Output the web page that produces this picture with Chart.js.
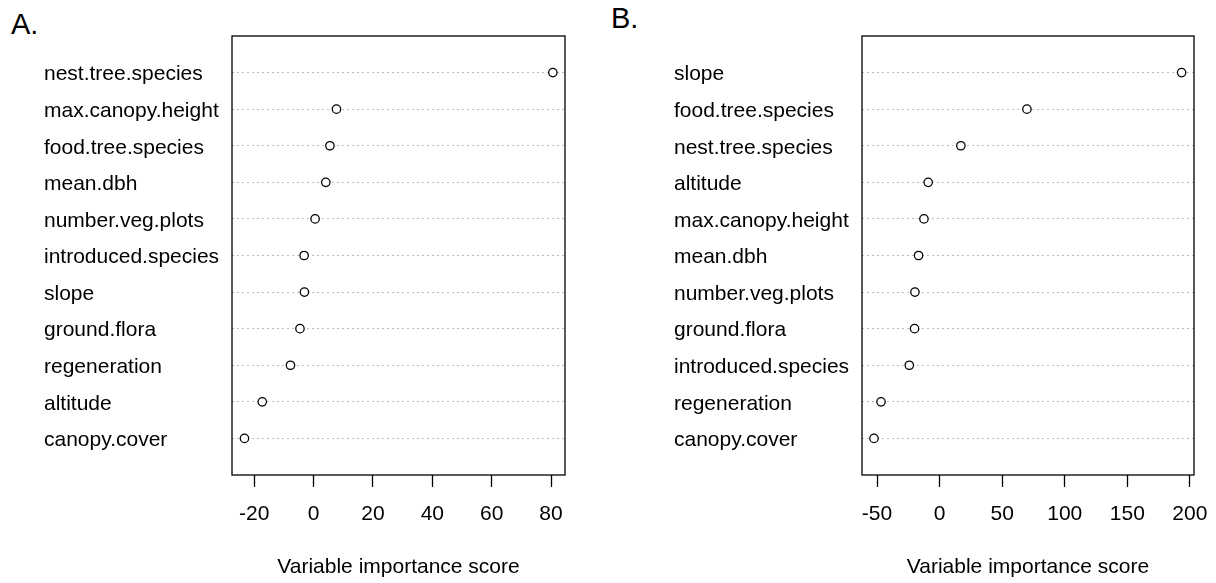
<!DOCTYPE html>
<html>
<head>
<meta charset="utf-8">
<script src="https://cdn.jsdelivr.net/npm/chart.js@4/dist/chart.umd.min.js"></script>
<style>
  html, body { margin: 0; padding: 0; background: #fff; }
  body { width: 1216px; height: 583px; position: relative; overflow: hidden; font-family: "Liberation Sans", Arial, sans-serif; }
  .panel { position: absolute; top: 0; height: 583px; }
  .tag { position: absolute; font-size: 29px; line-height: 29px; color: #000; font-family: "Liberation Sans", Arial, sans-serif; }
</style>
</head>
<body>
<div class="tag" style="left:11px; top:10px;">A.</div>
<div class="tag" style="left:611px; top:4px;">B.</div>
<div class="panel" style="left:0; width:600px;"><canvas id="cA" width="600" height="583"></canvas></div>
<div class="panel" style="left:600px; width:616px;"><canvas id="cB" width="616" height="583"></canvas></div>
<script>
// ---- Data (top-level named arrays) ----
const labelsA = ["nest.tree.species", "max.canopy.height", "food.tree.species", "mean.dbh",
  "number.veg.plots", "introduced.species", "slope", "ground.flora", "regeneration",
  "altitude", "canopy.cover"];
const valuesA = [80.6, 7.7, 5.5, 4.1, 0.5, -3.2, -3.1, -4.6, -7.8, -17.3, -23.3];
const ticksA = [-20, 0, 20, 40, 60, 80];

const labelsB = ["slope", "food.tree.species", "nest.tree.species", "altitude",
  "max.canopy.height", "mean.dbh", "number.veg.plots", "ground.flora",
  "introduced.species", "regeneration", "canopy.cover"];
const valuesB = [193.4, 69.8, 17.0, -9.1, -12.5, -16.8, -19.7, -20.0, -24.2, -46.8, -52.4];
const ticksB = [-50, 0, 50, 100, 150, 200];

const axisTitle = "Variable importance score";
const FONT = "'Liberation Sans', Arial, sans-serif";

const boxPlugin = {
  id: 'box',
  afterDatasetsDraw(chart) {
    const a = chart.chartArea, ctx = chart.ctx;
    ctx.save();
    ctx.strokeStyle = '#000';
    ctx.lineWidth = 1.3;
    ctx.setLineDash([]);
    ctx.strokeRect(a.left, a.top, a.right - a.left, a.bottom - a.top);
    ctx.restore();
  }
};

function makeChart(id, labels, values, tickVals, xmin, xmax, padL, padR) {
  const pts = values.map((v, i) => ({ x: v, y: i + 1 }));
  return new Chart(document.getElementById(id), {
    type: 'scatter',
    data: { datasets: [{ data: pts, pointRadius: 4.2, pointHoverRadius: 4.2,
      borderColor: '#000', backgroundColor: '#fff', borderWidth: 1.3, showLine: false }] },
    options: {
      responsive: false, animation: false, events: [],
      layout: { padding: { left: padL, right: padR, top: 36, bottom: 0 } },
      plugins: { legend: { display: false }, tooltip: { enabled: false } },
      scales: {
        x: {
          type: 'linear', min: xmin, max: xmax,
          afterBuildTicks: s => { s.ticks = tickVals.map(v => ({ value: v })); },
          afterFit: s => { s.height = 108; s.paddingLeft = 0; s.paddingRight = 0; },
          grid: { drawOnChartArea: false, drawTicks: true, tickLength: 12, tickColor: '#000', tickWidth: 1.3, color: '#000' },
          border: { display: false },
          ticks: { color: '#000', padding: 15, maxRotation: 0, autoSkip: false,
            font: { family: FONT, size: 21 } },
          title: { display: true, text: axisTitle, color: '#000', padding: { top: 0, bottom: 3 },
            font: { family: FONT, size: 21 } }
        },
        y: {
          type: 'linear', min: 0, max: 12, reverse: true,
          afterBuildTicks: s => { s.ticks = labels.map((l, i) => ({ value: i + 1 })); },
          afterFit: s => { s.width = 188; s.paddingTop = 0; s.paddingBottom = 0; },
          grid: { drawTicks: false, color: '#bdbdbd', lineWidth: 1 },
          border: { display: false, dash: [2, 3] },
          ticks: { color: '#000', crossAlign: 'far', padding: 0, labelOffset: 2, autoSkip: false,
            font: { family: FONT, size: 21 },
            callback: v => labels[v - 1] }
        }
      }
    },
    plugins: [boxPlugin]
  });
}

makeChart('cA', labelsA, valuesA, ticksA, -27.5, 84.7, 44, 35);
makeChart('cB', labelsB, valuesB, ticksB, -62, 203.3, 74, 22);
</script>
</body>
</html>
